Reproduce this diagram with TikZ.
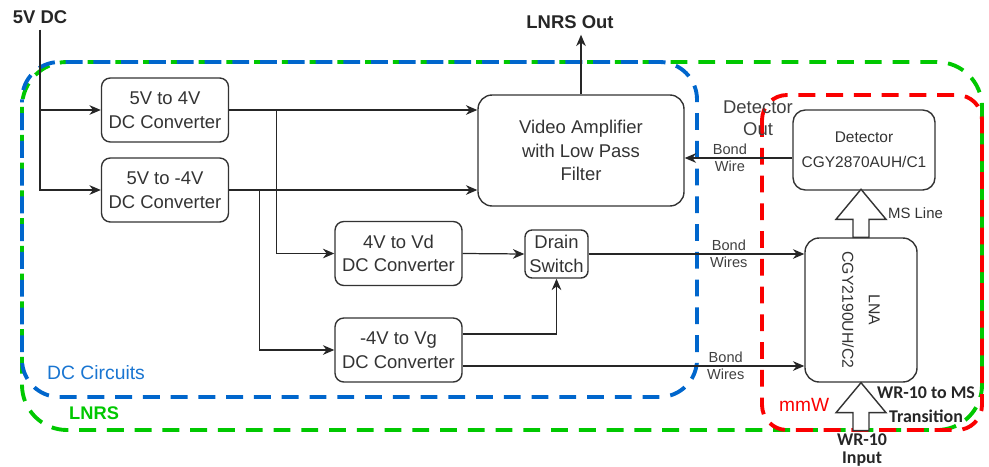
\documentclass[tikz,border=0pt]{standalone}
\usepackage{fontspec}
\setmainfont{Liberation Sans}
\newfontfamily\calfont{Carlito}
\usetikzlibrary{arrows.meta}

\begin{document}
\begin{tikzpicture}[x=0.02cm, y=-0.02cm,
    blk/.style={draw=black!80, line width=0.8pt, rounded corners=5pt, align=center, inner sep=1pt, text=black!80, font=\fontsize{10.5}{13.5}\selectfont},
    conv/.style={blk, minimum width=2.54cm, minimum height=1.28cm},
    wire/.style={draw=black!85, line width=0.7pt, -{Stealth[length=6.5pt, width=5.5pt]}},
    bondlbl/.style={font=\fontsize{8.3}{10}\selectfont, text=black!75, inner sep=1.5pt},
    bound/.style={line width=2.2pt, dash pattern=on 9.6pt off 6.2pt},
    hdr/.style={font=\bfseries\fontsize{10.5}{12}\selectfont, text=black!85},
    blockarrow/.style={draw=black!80, line width=0.8pt, fill=white, line join=miter}]

% Define colors
\definecolor{lnrsgreen}{RGB}{0, 200, 0}
\definecolor{dcblue}{RGB}{0, 102, 204}
\definecolor{mmwred}{RGB}{250, 0, 0}

\useasboundingbox (0,0) rectangle (989,466);

% Boundaries
\draw[bound, lnrsgreen, rounded corners=0.9cm] (22,62) rectangle (982,430);
\draw[bound, dcblue, rounded corners=0.75cm, dash phase=8pt] (22,62) rectangle (697,397);
\draw[bound, mmwred, rounded corners=0.5cm] (762,95) rectangle (982,430);

\node[anchor=west, text=dcblue!90!white, font=\fontsize{11}{13}\selectfont] (dclbl) at (41,373) {DC Circuits};
\node[anchor=west, text=lnrsgreen, font=\bfseries\fontsize{10.4}{12}\selectfont] (lnrslbl) at (63,413) {LNRS};
\node[anchor=west, text=mmwred, font=\fontsize{10.9}{13}\selectfont] (mmwlbl) at (773,405) {mmW};

% Inputs and outputs
\node[hdr] (dc) at (40,17) {5V DC};
\node[hdr] (out) at (570,22) {LNRS Out};

% DC converters
\node[conv] (c4) at (165,110) {5V to 4V\\DC Converter};
\node[conv] (cm4) at (165,190) {5V to -4V\\DC Converter};
\node[conv] (vd) at (398.5,253.5) {4V to Vd\\DC Converter};
\node[conv] (vg) at (398.5,350) {-4V to Vg\\DC Converter};
\node[blk, minimum width=1.26cm, minimum height=0.96cm, rounded corners=4pt] (sw) at (556.5,254) {Drain\\Switch};

% Video amplifier
\node[blk, minimum width=4.12cm, minimum height=2.22cm, rounded corners=8pt] (vamp) at (581,150.5) {Video Amplifier\\with Low Pass\\Filter};

% mmW parts
\node[blk, minimum width=2.84cm, minimum height=1.6cm, rounded corners=7pt, font=\fontsize{8.8}{14}\selectfont] (det) at (864,150) {Detector\\CGY2870AUH/C1};
\node[blk, minimum width=2.24cm, minimum height=2.88cm, rounded corners=8pt] (lna) at (861,310) {};
\node[rotate=-90, align=center, text=black!80, font=\fontsize{9}{15}\selectfont] (lnatxt) at (lna.center) {LNA\\CGY2190UH/C2};
\node[align=center, text=black!75, font=\fontsize{10.5}{12.5}\selectfont] (detout) at (758,118) {Detector\\Out};

% Supply lines
\draw[wire] (dc.south) |- (cm4.west);
\draw[wire] (dc.south |- c4.west) -- (c4.west);
\draw[wire] (c4.east) -- (c4.east -| vamp.west);
\draw[wire] (cm4.east) -- (cm4.east -| vamp.west);
\draw[wire] ([xshift=0.94cm]c4.east) |- (vd.west);
\draw[wire] ([xshift=0.6cm]cm4.east) |- (vg.west);
\draw[wire] (vd.east) -- (sw.west);
\draw[wire] ([yshift=0.32cm]vg.east) -| (sw.south);

% Bond wires
\draw[wire] (sw.east) -- (sw.east -| lna.west)
    node[bondlbl, pos=0.65, above] {Bond} node[bondlbl, pos=0.65, below] {Wires};
\draw[wire] ([yshift=-0.32cm]vg.east) -- ([yshift=-0.32cm]vg.east -| lna.west)
    node[bondlbl, pos=0.77, above] {Bond} node[bondlbl, pos=0.77, below] {Wires};
\draw[wire] ([yshift=-0.16cm]det.west) -- ([yshift=-0.16cm]det.west -| vamp.east)
    node[bondlbl, pos=0.58, above] {Bond} node[bondlbl, pos=0.58, below] {Wire};
\draw[wire] (vamp.north) -- (vamp.north |- out.south);

% Block arrows
\draw[blockarrow] (lna.north) ++(-8,0) -- ++(0,-18) -- ++(-17,0) -- ++(25,-30) -- ++(25,30) -- ++(-17,0) -- ++(0,18) -- cycle;
\draw[blockarrow] (lna.south) -- ++(25,30) -- ++(-17,0) -- ++(0,18) -- ++(-16,0) -- ++(0,-18) -- ++(-17,0) -- cycle;

\node[anchor=west, text=black!80, font=\fontsize{8.5}{10}\selectfont, inner sep=1pt] (msline) at (886,213) {MS Line};
\node[align=center, text=black!85, font=\calfont\bfseries\fontsize{10.2}{13.6}\selectfont] (trans) at (926,405) {WR-10 to MS\\Transition};
\node[align=center, text=black!85, font=\calfont\bfseries\fontsize{10.2}{10}\selectfont] (wrin) at (862,450) {WR-10\\Input};

\end{tikzpicture}
\end{document}
